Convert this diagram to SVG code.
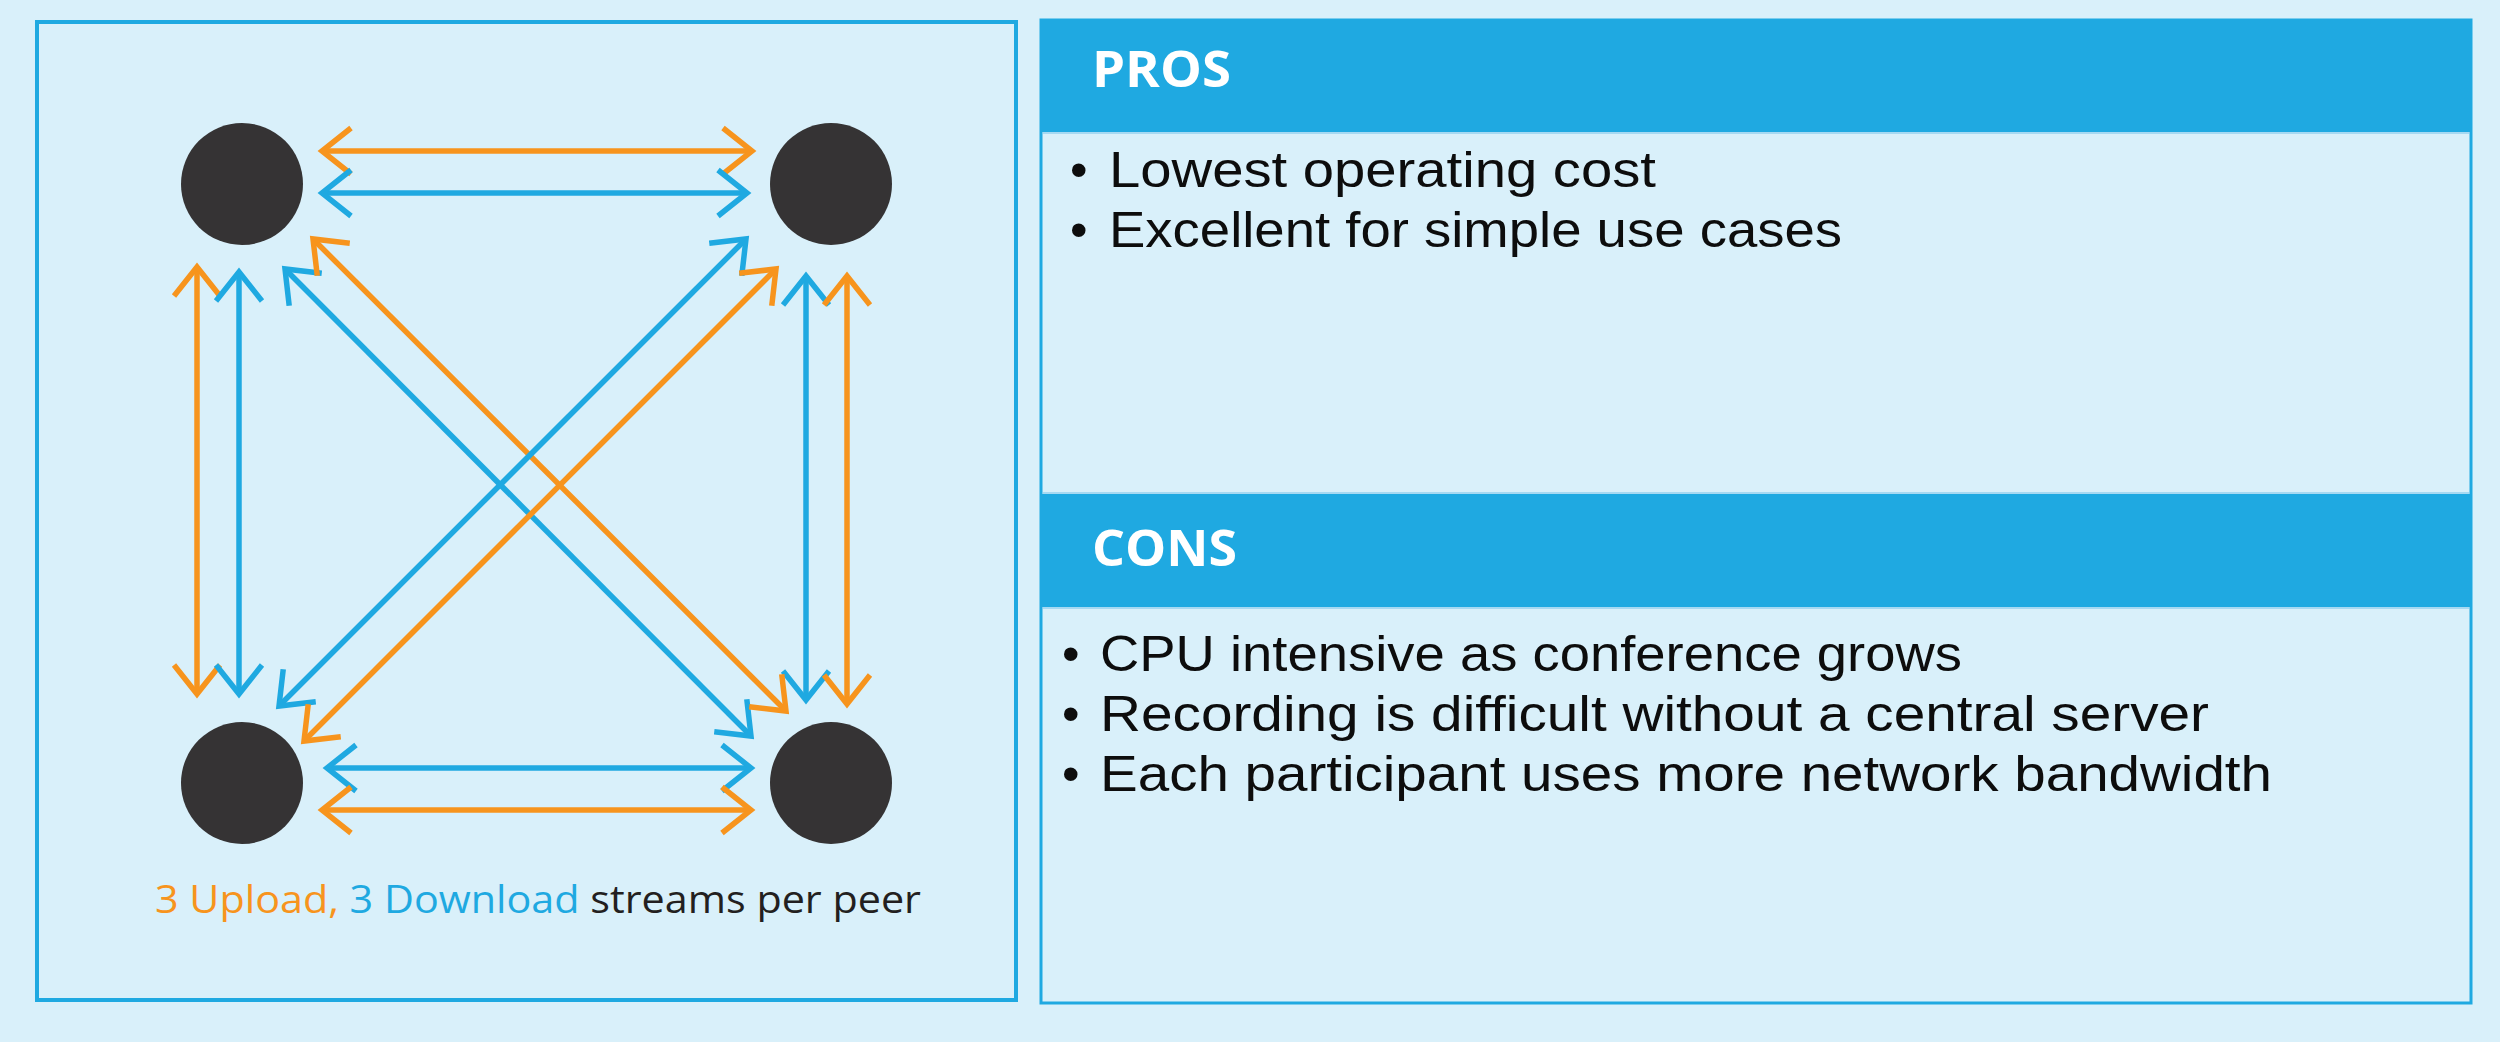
<svg xmlns="http://www.w3.org/2000/svg" width="2500" height="1042" viewBox="0 0 2500 1042">
<defs>
<style>
.bg{fill:#D9F0FA}
.panel{fill:#D9F0FA;stroke:#1FA9E1;stroke-width:4}
.hdr{fill:#1FA9E1}
.div{stroke:#A6D9F2;stroke-width:2;fill:none}
.peer{fill:#353334}
.o{stroke:#F7941D;stroke-width:5.5;fill:none;marker-start:url(#mo);marker-end:url(#mo)}
.b{stroke:#1FA9E1;stroke-width:5.5;fill:none;marker-start:url(#mb);marker-end:url(#mb)}
.h{font-family:"Open Sans","Liberation Sans",sans-serif;font-weight:700;font-size:50px;fill:#FFFFFF}
.t{font-family:"Liberation Sans",Arial,sans-serif;font-size:50px;fill:#0D0D0D}
.cap{font-family:"Open Sans","Liberation Sans",sans-serif;font-size:38px}
</style>
<marker id="mo" markerUnits="userSpaceOnUse" orient="auto-start-reverse" refX="0" refY="0" markerWidth="80" markerHeight="80" overflow="visible">
<path d="M-29,-23 L0,0 L-29,23" fill="none" stroke="#F7941D" stroke-width="5.5" stroke-linejoin="miter"/>
</marker>
<marker id="mb" markerUnits="userSpaceOnUse" orient="auto-start-reverse" refX="0" refY="0" markerWidth="80" markerHeight="80" overflow="visible">
<path d="M-29,-23 L0,0 L-29,23" fill="none" stroke="#1FA9E1" stroke-width="5.5" stroke-linejoin="miter"/>
</marker>
</defs>
<rect class="bg" x="0" y="0" width="2500" height="1042"/>

<g id="left-panel">
<rect class="panel" x="37" y="22" width="979" height="978"/>
</g>

<g id="connectors">
<line class="o" x1="322" y1="151" x2="752" y2="151"/>
<line class="b" x1="322" y1="193" x2="747" y2="193"/>
<line class="b" x1="327" y1="768" x2="751" y2="768"/>
<line class="o" x1="322" y1="810" x2="751" y2="810"/>
<line class="o" x1="197" y1="267" x2="197" y2="694"/>
<line class="b" x1="239" y1="272" x2="239" y2="694"/>
<line class="b" x1="806" y1="276" x2="806" y2="700"/>
<line class="o" x1="847" y1="276" x2="847" y2="704"/>
<line class="b" x1="285" y1="269" x2="751" y2="736"/>
<line class="o" x1="313" y1="239" x2="786" y2="711"/>
<line class="b" x1="279" y1="706" x2="746" y2="239"/>
<line class="o" x1="304" y1="741" x2="776" y2="269"/>
</g>

<g id="peer-tl"><circle class="peer" cx="242" cy="184" r="61"/></g>
<g id="peer-tr"><circle class="peer" cx="831" cy="184" r="61"/></g>
<g id="peer-bl"><circle class="peer" cx="242" cy="783" r="61"/></g>
<g id="peer-br"><circle class="peer" cx="831" cy="783" r="61"/></g>

<g id="caption">
<text class="cap" x="155" y="913" textLength="766" lengthAdjust="spacingAndGlyphs"><tspan fill="#F7941D">3 Upload,</tspan> <tspan fill="#1FA9E1">3 Download</tspan> <tspan fill="#231F20">streams per peer</tspan></text>
</g>

<g id="right-panel">
<rect class="panel" x="1041" y="20" width="1430" height="983" style="stroke-width:3"/>
</g>

<g id="pros">
<rect class="hdr" x="1041" y="20" width="1430" height="112"/>
<line class="div" x1="1043" y1="133" x2="2469" y2="133"/>
<text class="h" x="1092" y="87" textLength="139" lengthAdjust="spacingAndGlyphs">PROS</text>
<text class="t" x="1070" y="187">•</text>
<text class="t" x="1109" y="187" textLength="547" lengthAdjust="spacingAndGlyphs">Lowest operating cost</text>
<text class="t" x="1070" y="247">•</text>
<text class="t" x="1109" y="247" textLength="733" lengthAdjust="spacingAndGlyphs">Excellent for simple use cases</text>
</g>

<g id="cons">
<line class="div" x1="1043" y1="493" x2="2469" y2="493"/>
<rect class="hdr" x="1041" y="494" width="1430" height="113"/>
<line class="div" x1="1043" y1="608" x2="2469" y2="608"/>
<text class="h" x="1092" y="566" textLength="145" lengthAdjust="spacingAndGlyphs">CONS</text>
<text class="t" x="1062" y="671">•</text>
<text class="t" x="1100" y="671" textLength="862" lengthAdjust="spacingAndGlyphs">CPU intensive as conference grows</text>
<text class="t" x="1062" y="731">•</text>
<text class="t" x="1100" y="731" textLength="1109" lengthAdjust="spacingAndGlyphs">Recording is difficult without a central server</text>
<text class="t" x="1062" y="791">•</text>
<text class="t" x="1100" y="791" textLength="1172" lengthAdjust="spacingAndGlyphs">Each participant uses more network bandwidth</text>
</g>
</svg>
